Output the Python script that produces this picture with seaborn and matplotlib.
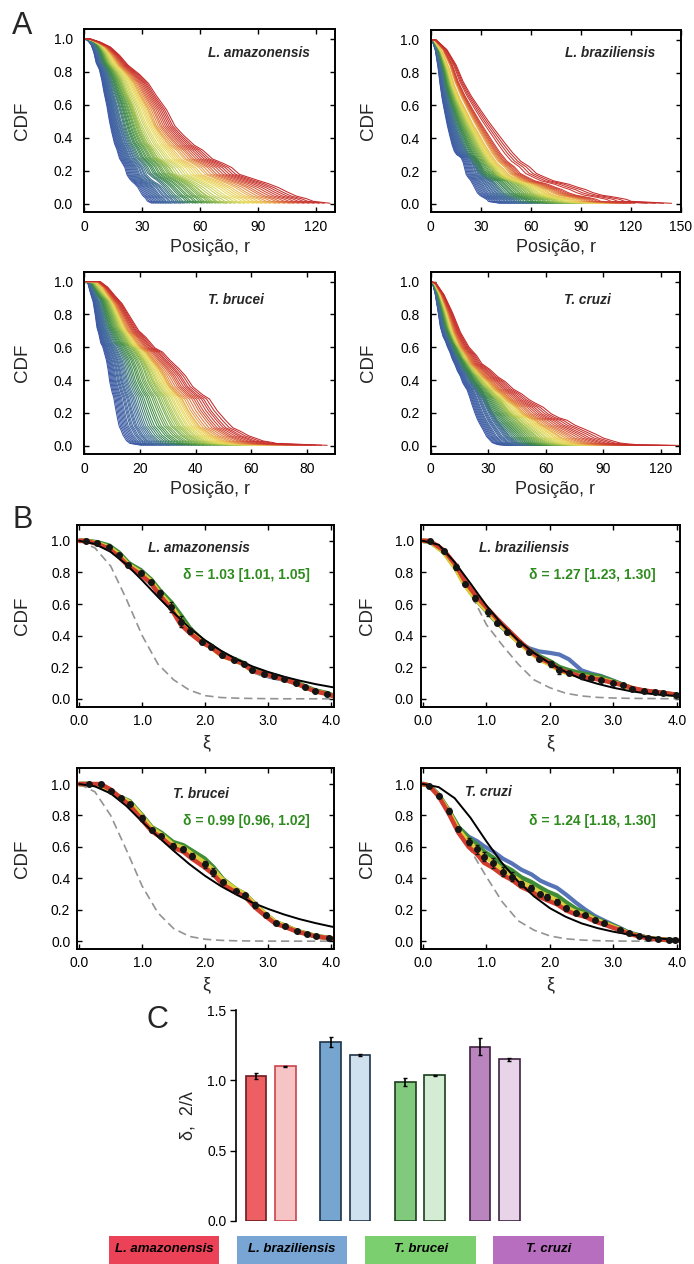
import numpy as np
import pandas as pd
import matplotlib
matplotlib.use("Agg")
import matplotlib.pyplot as plt
import seaborn as sns
from matplotlib.colors import LinearSegmentedColormap
from matplotlib.patches import Rectangle

sns.set_theme(style="ticks")
plt.rcParams["font.family"] = ["Liberation Sans", "DejaVu Sans"]

# ---------------- data ----------------
SPECIES = ["L. amazonensis", "L. braziliensis", "T. brucei", "T. cruzi"]
GROUPS = ["blue", "green", "yellow", "red"]

# collapsed shape grid (xi) and group curves, L. amazonensis
AMA_XI = [0.0, 0.11, 0.29, 0.47, 0.63, 0.78, 0.98, 1.14, 1.28, 1.46, 1.61, 1.76, 1.95, 2.10,
          2.27, 2.46, 2.61, 2.75, 2.94, 3.09, 3.25, 3.44, 3.59, 3.75, 3.94, 4.05, 4.35]
AMA_DOTS = [1.0, .985, .958, .91, .847, .795, .74, .667, .58, .487, .43, .36, .328, .275,
            .248, .222, .18, .159, .142, .125, .10, .074, .049, .032]
AMA_ERR = [0.003, 0.005, 0.01, 0.01, 0.015, 0.012, 0.015, 0.02, 0.03, 0.035, 0.02, 0.015,
           0.01, 0.012, 0.008, 0.008, 0.01, 0.008, 0.008, 0.006, 0.006, 0.006, 0.005, 0.004]
AMA_RED = [1.0, 1.0, .98, .95, .90, .84, .785, .73, .655, .57, .47, .415, .355, .325, .272,
           .245, .22, .178, .157, .14, .123, .098, .072, .047, .03, .015, .003]
AMA_YEL = [1.0, 1.0, .985, .96, .915, .85, .80, .745, .67, .59, .50, .435, .36, .322, .27,
           .243, .218, .176, .155, .14, .122, .098, .072, .048, .031, .015, .003]
AMA_GRN = [1.0, 1.0, .99, .97, .925, .86, .81, .755, .685, .61, .53, .445, .37, .335, .28,
           .252, .226, .186, .162, .148, .13, .104, .078, .052, .035, .017, .004]
AMA_BLU = [1.0, 1.0, .985, .962, .918, .855, .815, .75, .675, .595, .51, .44, .365, .33, .275,
           .245, .22, .175, .148, .133, .12, .10, .075, .05, .033, .016, .003]
AMA_SC_BLU = [8.1, 8.3, 8.5, 8.7, 8.9, 9.1, 9.3, 9.5, 9.7, 9.9, 10.1, 10.3, 10.5, 10.8, 11.0, 11.3, 11.5, 11.8]
AMA_SC_GRN = [12.0, 12.3, 12.6, 13.0, 13.3, 13.6, 14.0, 14.3, 14.7, 15.0, 15.3, 15.7, 16.0, 16.3, 16.7]
AMA_SC_YEL = [17.0, 17.5, 18.0, 18.6, 19.1, 19.6, 20.2, 20.7, 21.2, 21.7, 22.2]
AMA_SC_RED = [22.8, 23.3, 23.9, 24.5, 25.0, 25.6, 26.2, 26.8, 27.4, 28.0, 28.6, 29.3]

# L. braziliensis
BRA_XI = [0.0, .11, .33, .52, .66, .82, 1.02, 1.17, 1.32, 1.51, 1.67, 1.83, 2.01, 2.15, 2.30,
          2.50, 2.65, 2.80, 3.00, 3.15, 3.30, 3.49, 3.65, 3.79, 3.98, 4.08, 4.9]
BRA_DOTS = [1.0, .936, .833, .727, .636, .547, .481, .424, .35, .297, .254, .222, .18, .163,
            .142, .133, .121, .10, .085, .064, .049, .042, .036, .025]
BRA_ERR = [0.003, 0.01, 0.02, 0.015, 0.02, 0.02, 0.012, 0.012, 0.015, 0.015, 0.01, 0.02, 0.02,
           0.015, 0.015, 0.008, 0.006, 0.006, 0.006, 0.006, 0.005, 0.005, 0.004, 0.004]
BRA_RED = [1.0, 1.0, .94, .845, .745, .66, .57, .505, .445, .37, .31, .26, .225, .185, .165,
           .14, .13, .12, .10, .087, .068, .052, .045, .038, .027, .015, .003]
BRA_YEL = [1.0, .995, .925, .82, .72, .635, .55, .485, .43, .355, .30, .25, .215, .178, .16,
           .145, .135, .125, .105, .085, .062, .047, .04, .034, .024, .014, .003]
BRA_GRN = [1.0, .995, .93, .825, .725, .64, .55, .485, .43, .36, .31, .27, .235, .20, .18,
           .16, .15, .14, .11, .088, .065, .05, .042, .035, .025, .014, .003]
BRA_BLU = [1.0, .995, .935, .83, .73, .635, .545, .48, .425, .36, .32, .30, .29, .28, .25,
           .18, .16, .145, .115, .09, .066, .05, .042, .035, .025, .014, .003]
BRA_SC_BLU = [8.5, 8.75, 9.0, 9.25, 9.5, 9.75, 10.0, 10.25, 10.5, 10.8, 11.0, 11.3, 11.5, 11.8, 12.0, 12.3, 12.5, 12.8]
BRA_SC_GRN = [13.1, 13.4, 13.8, 14.2, 14.5, 14.9, 15.2, 15.6, 16.0, 16.3, 16.7, 17.0, 17.4, 17.7, 18.1]
BRA_SC_YEL = [18.4, 18.7, 19.0, 19.4, 19.7, 20.0, 20.4, 20.7, 21.0, 21.4, 21.7]
BRA_SC_RED = [22.0, 22.4, 22.8, 23.2, 23.6, 24.0, 24.5, 25.0, 26.5, 27.5, 28.5, 29.5]

# T. brucei
BRU_XI = [0.0, .15, .34, .50, .66, .80, 1.0, 1.15, 1.30, 1.49, 1.65, 1.79, 1.99, 2.13, 2.28,
          2.49, 2.63, 2.79, 2.97, 3.12, 3.27, 3.46, 3.61, 3.76, 3.96, 4.04, 5.1]
BRU_DOTS = [1.0, 1.0, .953, .91, .874, .783, .708, .67, .606, .584, .542, .488, .441, .377,
            .32, .292, .228, .164, .117, .096, .062, .047, .03, .021]
BRU_ERR = [0.003, 0.005, 0.012, 0.01, 0.01, 0.02, 0.012, 0.015, 0.02, 0.015, 0.02, 0.025,
           0.025, 0.015, 0.012, 0.01, 0.02, 0.012, 0.008, 0.006, 0.006, 0.005, 0.004, 0.004]
BRU_RED = [1.0, 1.0, 1.0, .965, .91, .865, .77, .70, .66, .595, .57, .525, .47, .425, .36,
           .31, .285, .215, .155, .11, .09, .06, .045, .029, .02, .014, .003]
BRU_YEL = [1.0, 1.0, .995, .955, .915, .885, .795, .72, .68, .615, .595, .555, .50, .455, .39,
           .33, .30, .235, .168, .12, .098, .064, .048, .031, .021, .015, .003]
BRU_GRN = [1.0, 1.0, .99, .95, .915, .89, .80, .725, .69, .63, .61, .575, .525, .47, .395,
           .33, .30, .235, .168, .12, .098, .064, .048, .031, .021, .015, .003]
BRU_BLU = [1.0, 1.0, .99, .948, .91, .88, .795, .72, .685, .625, .605, .57, .52, .465, .39,
           .325, .295, .23, .165, .118, .097, .064, .048, .031, .021, .015, .003]
BRU_SC_BLU = [4.05, 4.2, 4.35, 4.5, 4.65, 4.8, 4.95, 5.1, 5.3, 5.45, 5.6, 5.8, 5.95, 6.1, 6.3, 6.5, 6.7, 6.9]
BRU_SC_GRN = [7.1, 7.35, 7.6, 7.85, 8.1, 8.4, 8.65, 8.9, 9.2, 9.45, 9.7, 10.0, 10.2, 10.45, 10.7]
BRU_SC_YEL = [10.9, 11.1, 11.35, 11.55, 11.8, 12.0, 12.25, 12.45, 12.7, 12.9, 13.1]
BRU_SC_RED = [13.4, 13.7, 14.0, 14.35, 14.7, 15.0, 15.3, 15.65, 16.0, 16.3, 16.7, 17.1]

# T. cruzi
CRU_XI = [0.0, .10, .25, .41, .56, .72, .86, .96, 1.11, 1.26, 1.40, 1.55, 1.71, 1.85, 1.96,
          2.11, 2.26, 2.41, 2.56, 2.71, 2.86, 3.10, 3.24, 3.41, 3.55, 3.71, 3.87, 3.97, 4.7]
CRU_DOTS = [.99, .926, .826, .713, .634, .585, .538, .496, .443, .411, .364, .336, .30, .279,
            .251, .209, .181, .166, .134, .113, .074, .049, .032, .017, .011, .006, .006]
CRU_ERR = [0.005, 0.01, 0.02, 0.015, 0.02, 0.03, 0.03, 0.03, 0.03, 0.03, 0.02, 0.02, 0.015,
           0.02, 0.015, 0.015, 0.01, 0.008, 0.008, 0.008, 0.006, 0.005, 0.004, 0.004, 0.003, 0.003, 0.003]
CRU_RED = [1.0, .99, .92, .81, .69, .60, .55, .50, .465, .42, .39, .345, .315, .28, .26, .235,
           .195, .17, .155, .125, .105, .07, .047, .03, .017, .011, .007, .005, .002]
CRU_YEL = [1.0, .99, .925, .825, .71, .63, .585, .54, .50, .45, .42, .375, .345, .31, .29, .26,
           .215, .185, .17, .138, .115, .076, .05, .033, .018, .012, .007, .006, .002]
CRU_GRN = [1.0, .99, .93, .83, .725, .655, .61, .57, .53, .48, .45, .405, .375, .34, .315, .29,
           .245, .205, .18, .145, .12, .08, .053, .035, .019, .012, .007, .006, .002]
CRU_BLU = [1.0, .99, .93, .83, .725, .665, .635, .605, .57, .525, .495, .455, .425, .385, .365, .34,
           .295, .245, .20, .16, .13, .085, .056, .037, .02, .013, .008, .006, .002]
CRU_SC_BLU = [9.0, 9.2, 9.4, 9.6, 9.8, 10.0, 10.2, 10.4, 10.6, 10.9, 11.1, 11.3, 11.5, 11.8, 12.0, 12.2, 12.4, 12.6]
CRU_SC_GRN = [12.8, 13.1, 13.4, 13.7, 14.0, 14.3, 14.6, 14.9, 15.2, 15.5, 15.8, 16.1, 16.4, 16.7, 17.0]
CRU_SC_YEL = [17.3, 17.7, 18.0, 18.4, 18.7, 19.1, 19.4, 19.8, 20.1, 20.5, 20.8]
CRU_SC_RED = [21.2, 21.7, 22.2, 22.7, 23.2, 23.8, 24.4, 25.0, 25.6, 26.3, 27.0, 27.8]

# model curves (black solid) and gaussian reference (grey dashed)
XI_TH = [0.0, 0.25, 0.5, 0.75, 1.0, 1.25, 1.5, 1.75, 2.0, 2.25, 2.5, 2.75, 3.0, 3.25, 3.5, 3.75, 4.0, 4.1]
AMA_TH = [1.0, .98, .93, .85, .75, .645, .545, .45, .37, .305, .25, .205, .17, .14, .115, .093, .075, .068]
BRA_TH = [1.0, .975, .865, .73, .59, .47, .37, .29, .225, .17, .125, .095, .07, .05, .035, .025, .018, .016]
BRU_TH = [1.0, .985, .94, .86, .76, .665, .575, .49, .415, .35, .295, .245, .205, .17, .14, .115, .093, .086]
CRU_TH = [1.0, .98, .91, .785, .635, .495, .38, .285, .21, .155, .113, .083, .06, .042, .028, .016, .008, .006]
AMA_GS = [1.0, .955, .84, .63, .40, .22, .12, .055, .02, .008, .004, .002, .001, 0, 0, 0, 0, 0]
BRA_GS = [1.0, .97, .86, .67, .47, .34, .22, .12, .07, .035, .018, .009, .005, .003, .002, .001, 0, 0]
BRU_GS = [1.0, .95, .80, .58, .35, .18, .08, .03, .012, .005, .002, .001, 0, 0, 0, 0, 0, 0]
CRU_GS = [1.0, .94, .78, .58, .41, .25, .13, .07, .033, .015, .007, .003, .001, 0, 0, 0, 0, 0]

DELTA_LABELS = ["δ = 1.03 [1.01, 1.05]", "δ = 1.27 [1.23, 1.30]",
                "δ = 0.99 [0.96, 1.02]", "δ = 1.24 [1.18, 1.30]"]

# panel C
MEASURES = ["δ", "2/λ"]
DELTA = [1.03, 1.27, 0.99, 1.24]
DELTA_ERR = [0.02, 0.035, 0.03, 0.06]
TWO_LAMBDA = [1.10, 1.18, 1.035, 1.15]
TWO_LAMBDA_ERR = [0.004, 0.01, 0.003, 0.01]

# ---------------- styles ----------------
DARK_FILL = ["#ee5f63", "#76a6d0", "#80c97d", "#ba84bf"]
DARK_EDGE = ["#6b1a1e", "#1f3349", "#1b3d1c", "#3e2342"]
LIGHT_FILL = ["#f7c4c6", "#cfe0ee", "#d4ecd3", "#e7d4e8"]
LIGHT_EDGE = ["#c8444b", "#1f3349", "#1b3d1c", "#3e2342"]
LEGEND_COL = ["#ec4257", "#78a5d3", "#7bcf6f", "#b86ebf"]
BAND_COL = {"blue": "#5674b6", "green": "#3f8d36", "yellow": "#dccd3c", "red": "#d23c2c"}
FAN = LinearSegmentedColormap.from_list("fan", [
    (0.0, "#3c58a6"), (0.28, "#45709c"), (0.42, "#3b8a45"), (0.58, "#95bd4c"),
    (0.70, "#e6dc5c"), (0.78, "#ecc556"), (0.85, "#e07b40"), (0.92, "#cf3f33"), (1.0, "#c42b2b")])
GREEN_TXT = "#2e8b1e"

W, H = 694, 1264
fig = plt.figure(figsize=(W / 100, H / 100), dpi=100)


def rect(x0, y0, x1, y1):
    return [x0 / W, 1 - y1 / H, (x1 - x0) / W, (y1 - y0) / H]


def style_axes(ax, xpad, ypad):
    for s in ax.spines.values():
        s.set_visible(True)
        s.set_linewidth(1.4)
        s.set_color("black")
    ax.tick_params(direction="in", top=True, right=True, length=3.5, width=1.0,
                   labelsize=10, colors="black")
    ax.tick_params(axis="x", pad=xpad)
    ax.tick_params(axis="y", pad=ypad)


def panel_a(ax, xi, reps, scales, xlim, xticks, name, nx, ny, ylx):
    frames = []
    k = 0
    for g in GROUPS:
        for s in scales[g]:
            frames.append(pd.DataFrame({"r": np.asarray(xi) * s, "cdf": reps[g], "curve": k}))
            k += 1
    df = pd.concat(frames, ignore_index=True)
    sns.lineplot(data=df, x="r", y="cdf", hue="curve", palette=FAN, estimator=None,
                 sort=False, legend=False, lw=0.75, ax=ax)
    ax.set_xlim(*xlim)
    ax.set_ylim(-0.05, 1.06)
    ax.set_xticks(xticks)
    ax.set_xticklabels([str(t) for t in xticks])
    ax.set_yticks([0, 0.2, 0.4, 0.6, 0.8, 1.0])
    ax.set_yticklabels(["0.0", "0.2", "0.4", "0.6", "0.8", "1.0"])
    style_axes(ax, 5.5, 8.0)
    ax.set_xlabel("Posição, r", fontsize=13)
    ax.set_ylabel("CDF", fontsize=13.5)
    ax.xaxis.set_label_coords(0.5, -0.148)
    ax.yaxis.set_label_coords(ylx, 0.5)
    ax.text(nx, ny, name, transform=ax.transAxes, ha="left", va="center",
            fontsize=9.8, fontweight="bold", fontstyle="italic")


def panel_b(ax, xi, reps, dots, err, th, gs, name, nx, ny, dlabel, dy, ylx):
    sns.lineplot(x=XI_TH, y=gs, color="#939393", lw=1.2, linestyle=(0, (5, 2.8)),
                 estimator=None, sort=False, ax=ax)
    widths = {"blue": 3.0, "green": 3.4, "yellow": 3.2, "red": 3.2}
    for g in GROUPS:
        sns.lineplot(x=xi, y=reps[g], color=BAND_COL[g], lw=widths[g], estimator=None,
                     sort=False, ax=ax, solid_capstyle="round", solid_joinstyle="round")
    sns.lineplot(x=XI_TH, y=th, color="black", lw=1.4, estimator=None, sort=False, ax=ax)
    dx = xi[1:1 + len(dots)]
    ax.errorbar(dx, dots, yerr=err, fmt="o", ms=4, color="#151515", ecolor="#151515",
                elinewidth=1.0, capsize=1.5, capthick=1.0, zorder=5)
    ax.set_xlim(-0.03, 4.05)
    ax.set_ylim(-0.05, 1.10)
    ax.set_xticks([0, 1, 2, 3, 4])
    ax.set_xticklabels(["0.0", "1.0", "2.0", "3.0", "4.0"])
    ax.set_yticks([0, 0.2, 0.4, 0.6, 0.8, 1.0])
    ax.set_yticklabels(["0.0", "0.2", "0.4", "0.6", "0.8", "1.0"])
    style_axes(ax, 5, 5)
    ax.set_xlabel("ξ", fontsize=13)
    ax.set_ylabel("CDF", fontsize=13.5)
    ax.xaxis.set_label_coords(0.5, -0.15)
    ax.yaxis.set_label_coords(ylx, 0.5)
    ax.text(nx, ny, name, transform=ax.transAxes, ha="left", va="center",
            fontsize=9.8, fontweight="bold", fontstyle="italic")
    ax.text(0.905, dy, dlabel, transform=ax.transAxes, ha="right", va="center",
            fontsize=10, fontweight="bold", color=GREEN_TXT)


A_RECTS = [rect(84, 29, 335, 212), rect(430.7, 30, 680.7, 212),
           rect(84, 271.7, 335, 454), rect(430.7, 271.7, 680, 454)]
B_RECTS = [rect(77.3, 525, 334.3, 706.7), rect(421, 525, 680, 706.7),
           rect(77.3, 768.3, 334.3, 949), rect(421, 768.3, 680, 949)]

XIS = [AMA_XI, BRA_XI, BRU_XI, CRU_XI]
REPS = [dict(blue=AMA_BLU, green=AMA_GRN, yellow=AMA_YEL, red=AMA_RED),
        dict(blue=BRA_BLU, green=BRA_GRN, yellow=BRA_YEL, red=BRA_RED),
        dict(blue=BRU_BLU, green=BRU_GRN, yellow=BRU_YEL, red=BRU_RED),
        dict(blue=CRU_BLU, green=CRU_GRN, yellow=CRU_YEL, red=CRU_RED)]
SCALES = [dict(blue=AMA_SC_BLU, green=AMA_SC_GRN, yellow=AMA_SC_YEL, red=AMA_SC_RED),
          dict(blue=BRA_SC_BLU, green=BRA_SC_GRN, yellow=BRA_SC_YEL, red=BRA_SC_RED),
          dict(blue=BRU_SC_BLU, green=BRU_SC_GRN, yellow=BRU_SC_YEL, red=BRU_SC_RED),
          dict(blue=CRU_SC_BLU, green=CRU_SC_GRN, yellow=CRU_SC_YEL, red=CRU_SC_RED)]
DOTS = [AMA_DOTS, BRA_DOTS, BRU_DOTS, CRU_DOTS]
ERRS = [AMA_ERR, BRA_ERR, BRU_ERR, CRU_ERR]
THS = [AMA_TH, BRA_TH, BRU_TH, CRU_TH]
GSS = [AMA_GS, BRA_GS, BRU_GS, CRU_GS]

A_XLIM = [(0, 130), (0, 150), (0, 90), (0, 130)]
A_XTICKS = [[0, 30, 60, 90, 120], [0, 30, 60, 90, 120, 150], [0, 20, 40, 60, 80], [0, 30, 60, 90, 120]]
A_NAME_POS = [(0.494, 0.869), (0.537, 0.872), (0.494, 0.845), (0.533, 0.845)]
A_YLX = [-0.212, -0.215, -0.212, -0.215]
B_NAME_POS = [(0.275, 0.873), (0.225, 0.872), (0.371, 0.858), (0.17, 0.87)]
B_DY = [0.725, 0.724, 0.708, 0.71]
B_YLX = [-0.181, -0.172, -0.181, -0.172]

for i in range(4):
    axa = fig.add_axes(A_RECTS[i])
    panel_a(axa, XIS[i], REPS[i], SCALES[i], A_XLIM[i], A_XTICKS[i], SPECIES[i],
            A_NAME_POS[i][0], A_NAME_POS[i][1], A_YLX[i])
    axb = fig.add_axes(B_RECTS[i])
    panel_b(axb, XIS[i], REPS[i], DOTS[i], ERRS[i], THS[i], GSS[i], SPECIES[i],
            B_NAME_POS[i][0], B_NAME_POS[i][1], DELTA_LABELS[i], B_DY[i], B_YLX[i])

# ---------------- panel C ----------------
axc = fig.add_axes(rect(236, 1010, 532, 1221))
dfc = pd.DataFrame({
    "species": SPECIES * 2,
    "measure": [MEASURES[0]] * 4 + [MEASURES[1]] * 4,
    "value": DELTA + TWO_LAMBDA,
})
sns.barplot(data=dfc, x="species", y="value", hue="measure", order=SPECIES,
            hue_order=MEASURES, width=0.787, gap=0.3, errorbar=None, legend=False, ax=axc)
fills = [DARK_FILL, LIGHT_FILL]
edges = [DARK_EDGE, LIGHT_EDGE]
errs = [DELTA_ERR, TWO_LAMBDA_ERR]
bar_containers = list(axc.containers)
for h, cont in enumerate(bar_containers):
    cx, cy = [], []
    for j, bar in enumerate(cont):
        bar.set_facecolor(fills[h][j])
        bar.set_edgecolor(edges[h][j])
        bar.set_linewidth(1.2)
        cx.append(bar.get_x() + bar.get_width() / 2)
        cy.append(bar.get_height())
    axc.errorbar(cx, cy, yerr=errs[h], fmt="none", ecolor="black", elinewidth=1.2,
                 capsize=1.6, capthick=1.0, zorder=5)
axc.set_xlim(-0.465, 3.5)
axc.set_ylim(0, 1.5)
axc.set_yticks([0, 0.5, 1.0, 1.5])
axc.set_yticklabels(["0.0", "0.5", "1.0", "1.5"])
axc.set_xticks([])
axc.set_xlabel("")
for side in ["top", "right", "bottom"]:
    axc.spines[side].set_visible(False)
axc.spines["left"].set_linewidth(1.2)
axc.spines["left"].set_color("black")
axc.tick_params(axis="y", direction="out", length=4, width=1.0, labelsize=10, pad=3, colors="black")
axc.set_ylabel("δ,  2/λ", fontsize=13)
axc.yaxis.set_label_coords(-0.135, 0.5)

# species colour key
KEY_X = [108.7, 236.7, 365.3, 493.3]
for i, sp in enumerate(SPECIES):
    x0 = KEY_X[i]
    fig.add_artist(Rectangle((x0 / W, 1 - 1263.5 / H), 110.6 / W, 27.5 / H,
                             transform=fig.transFigure, facecolor=LEGEND_COL[i],
                             edgecolor="none"))
    fig.text((x0 + 55.3) / W, 1 - 1249.5 / H, sp, ha="center", va="center",
             fontsize=9.5, fontweight="bold", fontstyle="italic", color="black")

# panel letters
fig.text(12 / W, 1 - 11 / H, "A", fontsize=22, va="top", ha="left")
fig.text(12 / W, 1 - 505 / H, "B", fontsize=22, va="top", ha="left")
fig.text(146 / W, 1 - 1005 / H, "C", fontsize=22, va="top", ha="left")

fig.savefig("out.png", dpi=100)
